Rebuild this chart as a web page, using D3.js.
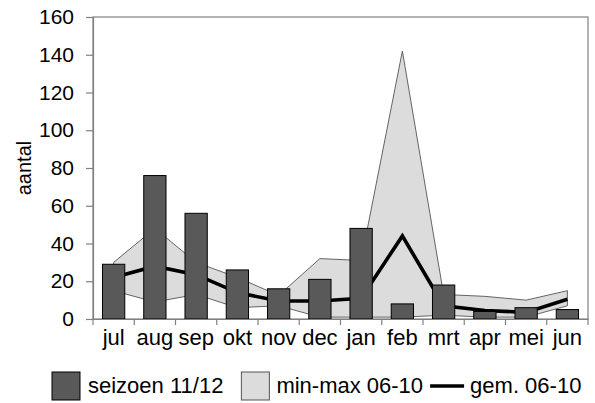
<!DOCTYPE html>
<html>
<head>
<meta charset="utf-8">
<script src="https://cdn.jsdelivr.net/npm/d3@7"></script>
<style>
  html, body { margin: 0; padding: 0; background: #fff; }
  svg { display: block; }
  text { font-family: "Liberation Sans", Arial, sans-serif; fill: #000; }
</style>
</head>
<body>
<svg id="chart" width="595" height="403"></svg>
<script>
const months = ["jul","aug","sep","okt","nov","dec","jan","feb","mrt","apr","mei","jun"];
const season = [29, 76, 56, 26, 16, 21, 48, 8, 18, 4, 6, 5];
const minVals = [15, 9, 13, 6, 7, 1, 1, 1, 2, 1, 1, 7];
const maxVals = [30, 48, 30, 22, 12.5, 32, 31, 142, 13, 12, 10, 15];
const avgVals = [22, 28, 23.5, 14, 9.5, 9.5, 11, 44, 7, 4.5, 3.5, 10.5];
const yTicks = [0, 20, 40, 60, 80, 100, 120, 140, 160];
const legendLabels = ["seizoen 11/12", "min-max 06-10", "gem. 06-10"];
const yLabel = "aantal";

(function () {
const svg = d3.select("#chart");
const pLeft = 93, pRight = 588, pTop = 17, pBottom = 319;

const x = d3.scaleBand().domain(months).range([pLeft, pRight]).padding(0);
const y = d3.scaleLinear().domain([0, 160]).range([pBottom, pTop]);
const cx = m => x(m) + x.bandwidth() / 2;
const barW = x.bandwidth() * 0.54;

const rows = months.map((m, i) => ({m, s: season[i], lo: minVals[i], hi: maxVals[i], avg: avgVals[i]}));

// plot frame
svg.append("rect").attr("x", pLeft).attr("y", pTop).attr("width", pRight - pLeft).attr("height", pBottom - pTop)
  .attr("fill", "#fff").attr("stroke", "#808080").attr("stroke-width", 1.2);

// min-max band
const area = d3.area().x(d => cx(d.m)).y0(d => y(d.lo)).y1(d => y(d.hi));
svg.append("path").datum(rows).attr("d", area)
  .attr("fill", "#dcdcdc").attr("stroke", "#555").attr("stroke-width", 0.9).attr("stroke-linejoin", "miter");

// average line
const line = d3.line().x(d => cx(d.m)).y(d => y(d.avg));
svg.append("path").datum(rows).attr("d", line)
  .attr("fill", "none").attr("stroke", "#000").attr("stroke-width", 3.6).attr("stroke-linejoin", "miter");

// bars
svg.append("g").selectAll("rect").data(rows).join("rect")
  .attr("x", d => cx(d.m) - barW / 2)
  .attr("y", d => y(d.s))
  .attr("width", barW)
  .attr("height", d => y(0) - y(d.s))
  .attr("fill", "#595959").attr("stroke", "#000").attr("stroke-width", 1);

// y axis
const yAxis = svg.append("g").attr("transform", `translate(${pLeft},0)`)
  .call(d3.axisLeft(y).tickValues(yTicks).tickSize(7).tickPadding(12));
yAxis.select(".domain").attr("stroke", "#808080").attr("stroke-width", 1.2);
yAxis.selectAll(".tick line").attr("stroke", "#808080").attr("stroke-width", 1.2);
yAxis.selectAll("text").style("font-size", "21px").style("font-family", "'Liberation Sans', Arial, sans-serif").attr("fill", "#000");

// x axis labels
const xAxis = svg.append("g").attr("transform", `translate(0,${pBottom})`)
  .call(d3.axisBottom(x).tickSize(0).tickPadding(10));
xAxis.select(".domain").attr("stroke", "#808080").attr("stroke-width", 1.2);
xAxis.selectAll("text").style("font-size", "22px").style("font-family", "'Liberation Sans', Arial, sans-serif").attr("fill", "#000");
// boundary ticks
const bounds = months.map(m => x(m)).concat([pRight]);
svg.append("g").selectAll("line").data(bounds).join("line")
  .attr("x1", d => d).attr("x2", d => d).attr("y1", pBottom).attr("y2", pBottom + 6)
  .attr("stroke", "#808080").attr("stroke-width", 1.2);

// y label
svg.append("text").attr("transform", "translate(31,168) rotate(-90)")
  .attr("text-anchor", "middle").style("font-size", "20px").text(yLabel);

// legend
const lg = svg.append("g");
const ly = 372, lh = 28, base = 393, fs = 22;
lg.append("rect").attr("x", 52).attr("y", ly).attr("width", 28).attr("height", lh)
  .attr("fill", "#595959").attr("stroke", "#000").attr("stroke-width", 1);
const t1 = lg.append("text").attr("x", 88).attr("y", base).style("font-size", fs + "px").text(legendLabels[0]);
const t1end = 88 + t1.node().getComputedTextLength();
const sw2 = t1end + 18;
lg.append("rect").attr("x", sw2).attr("y", ly).attr("width", 28).attr("height", lh)
  .attr("fill", "#dcdcdc").attr("stroke", "#555").attr("stroke-width", 1);
const t2 = lg.append("text").attr("x", sw2 + 35).attr("y", base).style("font-size", fs + "px").text(legendLabels[1]);
const t2end = sw2 + 35 + t2.node().getComputedTextLength();
lg.append("line").attr("x1", t2end + 7).attr("x2", t2end + 41).attr("y1", 386).attr("y2", 386)
  .attr("stroke", "#000").attr("stroke-width", 3.6);
lg.append("text").attr("x", t2end + 47).attr("y", base).style("font-size", fs + "px").text(legendLabels[2]);
})();
</script>
</body>
</html>
